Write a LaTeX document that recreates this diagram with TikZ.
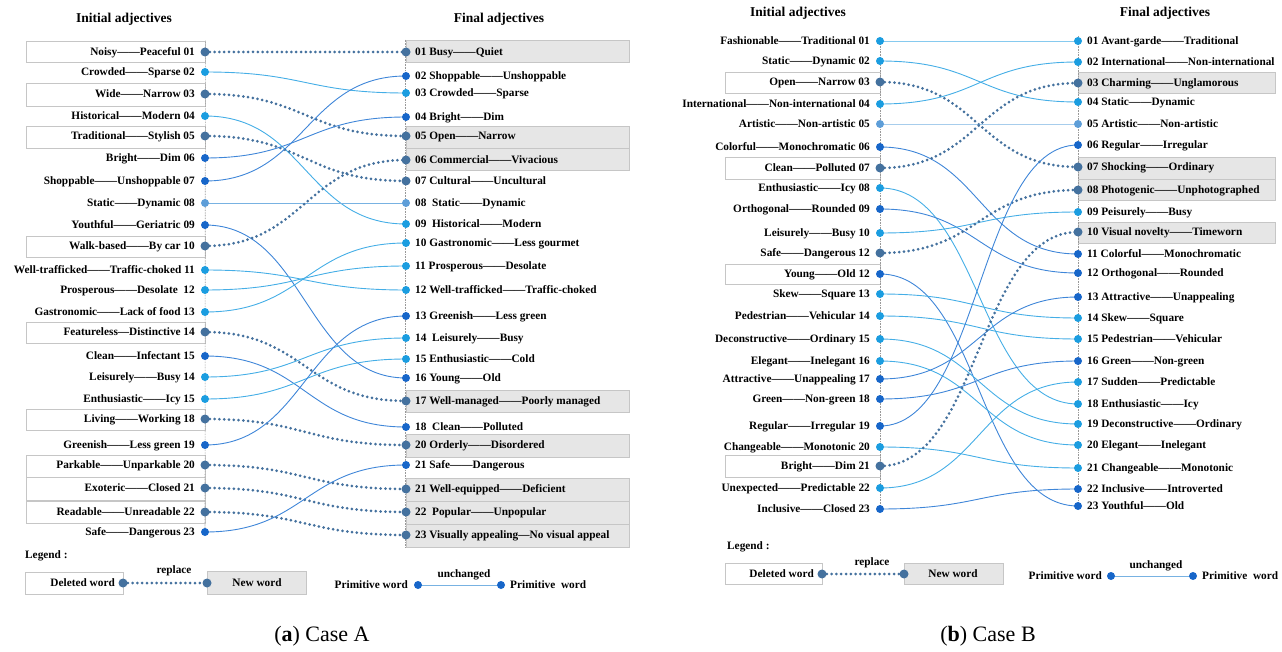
\documentclass[tikz,border=0pt]{standalone}
\usepackage{fontspec}
\setmainfont{Liberation Serif}
\usetikzlibrary{fit}
\definecolor{cyD}{HTML}{1B9DE0}
\definecolor{cyL}{HTML}{45AEE6}
\definecolor{blD}{HTML}{1766C9}
\definecolor{blL}{HTML}{3F86D8}
\definecolor{stD}{HTML}{44719E}
\definecolor{ltD}{HTML}{5E9ED8}
\definecolor{ltL}{HTML}{78B2E2}
\definecolor{boxG}{HTML}{C6C6C6}
\definecolor{fillG}{HTML}{E6E6E6}
\pgfdeclarelayer{bg}
\pgfsetlayers{bg,main}
\tikzset{
 dotn/.style={circle, inner sep=0pt, minimum size=8pt, draw=none},
 dcy/.style={fill=cyD}, dbl/.style={fill=blD}, dst/.style={fill=stD, minimum size=9pt}, dlt/.style={fill=ltD},
 lab/.style={font=\bfseries\fontsize{11.3}{13}\selectfont, inner sep=0pt, text height=8pt, text depth=1pt},
 ltxt/.style={lab, anchor=east},
 rtxt/.style={lab, anchor=west},
 delbox/.style={draw=boxG, fill=white, line width=0.8pt, inner sep=0pt},
 newbox/.style={draw=boxG, fill=fillG, line width=0.8pt, inner sep=0pt},
 colline/.style={draw=gray!80, line width=0.6pt, dash pattern=on 0.8pt off 0.8pt},
 ccy/.style={draw=cyL, line width=0.9pt},
 cbl/.style={draw=blL, line width=0.9pt},
 clt/.style={draw=ltL, line width=0.9pt},
 cst/.style={draw=stD, line width=3pt, line cap=round, dash pattern=on 0pt off 4.8pt},
 ttl/.style={font=\bfseries\fontsize{13.5}{16}\selectfont, inner sep=0pt},
 capt/.style={font=\fontsize{22}{26}\selectfont, inner sep=0pt},
}
\newcommand\LRow[5]{\node[dotn,#4] (#1) at (#2,#3) {}; \node[ltxt] (#1t) at (#2-10,#3) {#5};}
\newcommand\RRow[5]{\node[dotn,#4] (#1) at (#2,#3) {}; \node[rtxt] (#1t) at (#2+9,#3) {#5};}
\newcommand\Con[3]{\draw[#3] (#1.center) .. controls +(100,0) and +(-100,0) .. (#2.center);}
\begin{document}
\begin{tikzpicture}[x=1pt,y=-1pt]
\useasboundingbox (0,0) rectangle (1282,652);
% ---------------- titles
\node[ttl] (tA1) at (124,19) {Initial adjectives};
\node[ttl] (tA2) at (499,19) {Final adjectives};
\node[ttl] (tB1) at (798,13) {Initial adjectives};
\node[ttl] (tB2) at (1165,13) {Final adjectives};
% ---------------- Case A left
\LRow{aL01}{205}{52}{dst}{Noisy——Peaceful 01}
\LRow{aL02}{205}{72}{dcy}{Crowded——Sparse 02}
\LRow{aL03}{205}{94}{dst}{Wide——Narrow 03}
\LRow{aL04}{205}{116}{dcy}{Historical——Modern 04}
\LRow{aL05}{205}{136}{dst}{Traditional——Stylish 05}
\LRow{aL06}{205}{158}{dbl}{Bright——Dim 06}
\LRow{aL07}{205}{181}{dbl}{Shoppable——Unshoppable 07}
\LRow{aL08}{205}{203}{dlt}{Static——Dynamic 08}
\LRow{aL09}{205}{225}{dbl}{Youthful——Geriatric 09}
\LRow{aL10}{205}{246}{dst}{Walk-based——By car 10}
\LRow{aL11}{205}{270}{dcy}{Well-trafficked——Traffic-choked 11}
\LRow{aL12}{205}{290}{dcy}{Prosperous——Desolate~ 12}
\LRow{aL13}{205}{312}{dcy}{Gastronomic——Lack of food 13}
\LRow{aL14}{205}{332}{dst}{Featureless—Distinctive 14}
\LRow{aL15}{205}{356}{dbl}{Clean——Infectant 15}
\LRow{aL16}{205}{377}{dcy}{Leisurely——Busy 14}
\LRow{aL17}{205}{399}{dcy}{Enthusiastic——Icy 15}
\LRow{aL18}{205}{419}{dst}{Living——Working 18}
\LRow{aL19}{205}{445}{dbl}{Greenish——Less green 19}
\LRow{aL20}{205}{465}{dst}{Parkable——Unparkable 20}
\LRow{aL21}{205}{488}{dst}{Exoteric——Closed 21}
\LRow{aL22}{205}{512}{dst}{Readable——Unreadable 22}
\LRow{aL23}{205}{532}{dbl}{Safe——Dangerous 23}
% ---------------- Case A right
\RRow{aR01}{406}{52}{dst}{01 Busy——Quiet}
\RRow{aR02}{406}{76}{dbl}{02 Shoppable——Unshoppable}
\RRow{aR03}{406}{93}{dcy}{03 Crowded——Sparse}
\RRow{aR04}{406}{117}{dbl}{04 Bright——Dim}
\RRow{aR05}{406}{136}{dst}{05 Open——Narrow}
\RRow{aR06}{406}{160}{dst}{06 Commercial——Vivacious}
\RRow{aR07}{406}{181}{dst}{07 Cultural——Uncultural}
\RRow{aR08}{406}{203}{dlt}{08~ Static——Dynamic}
\RRow{aR09}{406}{224}{dcy}{09~ Historical——Modern}
\RRow{aR10}{406}{243}{dcy}{10 Gastronomic——Less gourmet}
\RRow{aR11}{406}{266}{dcy}{11 Prosperous——Desolate}
\RRow{aR12}{406}{290}{dcy}{12 Well-trafficked——Traffic-choked}
\RRow{aR13}{406}{316}{dbl}{13 Greenish——Less green}
\RRow{aR14}{406}{338}{dcy}{14~ Leisurely——Busy}
\RRow{aR15}{406}{359}{dcy}{15 Enthusiastic——Cold}
\RRow{aR16}{406}{378}{dbl}{16 Young——Old}
\RRow{aR17}{406}{401}{dst}{17 Well-managed——Poorly managed}
\RRow{aR18}{406}{427}{dbl}{18~ Clean——Polluted}
\RRow{aR20}{406}{445}{dst}{20 Orderly——Disordered}
\RRow{aR21}{406}{465}{dbl}{21 Safe——Dangerous}
\RRow{aR21w}{406}{489}{dst}{21 Well-equipped——Deficient}
\RRow{aR22}{406}{512}{dst}{22~ Popular——Unpopular}
\RRow{aR23}{406}{535}{dst}{23 Visually appealing—No visual appeal}
% ---------------- Case B left
\LRow{bL01}{880}{41}{dcy}{Fashionable——Traditional 01}
\LRow{bL02}{880}{61}{dcy}{Static——Dynamic 02}
\LRow{bL03}{880}{82}{dst}{Open——Narrow 03}
\LRow{bL04}{880}{104}{dcy}{International——Non-international 04}
\LRow{bL05}{880}{124}{dlt}{Artistic——Non-artistic 05}
\LRow{bL06}{880}{147}{dbl}{Colorful——Monochromatic 06}
\LRow{bL07}{880}{168}{dst}{Clean——Polluted 07}
\LRow{bL08}{880}{188}{dcy}{Enthusiastic——Icy 08}
\LRow{bL09}{880}{209}{dbl}{Orthogonal——Rounded 09}
\LRow{bL10}{880}{233}{dcy}{Leisurely——Busy 10}
\LRow{bL11}{880}{253}{dst}{Safe——Dangerous 12}
\LRow{bL12}{880}{274}{dbl}{Young——Old 12}
\LRow{bL13}{880}{294}{dcy}{Skew——Square 13}
\LRow{bL14}{880}{316}{dcy}{Pedestrian——Vehicular 14}
\LRow{bL15}{880}{339}{dcy}{Deconstructive——Ordinary 15}
\LRow{bL16}{880}{361}{dcy}{Elegant——Inelegant 16}
\LRow{bL17}{880}{379}{dbl}{Attractive——Unappealing 17}
\LRow{bL18}{880}{399}{dbl}{Green——Non-green 18}
\LRow{bL19}{880}{426}{dbl}{Regular——Irregular 19}
\LRow{bL20}{880}{447}{dcy}{Changeable——Monotonic 20}
\LRow{bL21}{880}{466}{dst}{Bright——Dim 21}
\LRow{bL22}{880}{488}{dcy}{Unexpected——Predictable 22}
\LRow{bL23}{880}{509}{dbl}{Inclusive——Closed 23}
% ---------------- Case B right
\RRow{bR01}{1078}{41}{dcy}{01 Avant-garde——Traditional}
\RRow{bR02}{1078}{62}{dcy}{02 International——Non-international}
\RRow{bR03}{1078}{83}{dst}{03 Charming——Unglamorous}
\RRow{bR04}{1078}{102}{dcy}{04 Static——Dynamic}
\RRow{bR05}{1078}{124}{dlt}{05 Artistic——Non-artistic}
\RRow{bR06}{1078}{145}{dbl}{06 Regular——Irregular}
\RRow{bR07}{1078}{167}{dst}{07 Shocking——Ordinary}
\RRow{bR08}{1078}{190}{dst}{08 Photogenic——Unphotographed}
\RRow{bR09}{1078}{212}{dcy}{09 Peisurely——Busy}
\RRow{bR10}{1078}{232}{dst}{10 Visual novelty——Timeworn}
\RRow{bR11}{1078}{254}{dbl}{11 Colorful——Monochromatic}
\RRow{bR12}{1078}{273}{dbl}{12 Orthogonal——Rounded}
\RRow{bR13}{1078}{297}{dbl}{13 Attractive——Unappealing}
\RRow{bR14}{1078}{318}{dcy}{14 Skew——Square}
\RRow{bR15}{1078}{339}{dcy}{15 Pedestrian——Vehicular}
\RRow{bR16}{1078}{361}{dbl}{16 Green——Non-green}
\RRow{bR17}{1078}{382}{dcy}{17 Sudden——Predictable}
\RRow{bR18}{1078}{404}{dcy}{18 Enthusiastic——Icy}
\RRow{bR19}{1078}{424}{dcy}{19 Deconstructive——Ordinary}
\RRow{bR20}{1078}{445}{dcy}{20 Elegant——Inelegant}
\RRow{bR21}{1078}{468}{dcy}{21 Changeable——Monotonic}
\RRow{bR22}{1078}{489}{dbl}{22 Inclusive——Introverted}
\RRow{bR23}{1078}{506}{dbl}{23 Youthful——Old}
% ---------------- Legends
\node[lab, anchor=west] (legA) at (25,555) {Legend :};
\node[ltxt] (ldAt) at (115,583) {Deleted word};
\node[dotn,dst] (ldA1) at (123,583) {};
\node[dotn,dst] (ldA2) at (207,583) {};
\node[lab] (lnAt) at (257,583) {New word};
\node[lab] (repA) at (174,570) {replace};
\node[ltxt] (pA1t) at (408,585) {Primitive word};
\node[dotn,dbl] (pA1) at (418,585) {};
\node[dotn,dbl] (pA2) at (501,585) {};
\node[rtxt] (pA2t) at (510,585) {Primitive~ word};
\node[lab] (unA) at (464,574) {unchanged};
\node[lab, anchor=west] (legB) at (727,546) {Legend :};
\node[ltxt] (ldBt) at (814,574) {Deleted word};
\node[dotn,dst] (ldB1) at (822,574) {};
\node[dotn,dst] (ldB2) at (904,574) {};
\node[lab] (lnBt) at (953,574) {New word};
\node[lab] (repB) at (872,562) {replace};
\node[ltxt] (pB1t) at (1102,576) {Primitive word};
\node[dotn,dbl] (pB1) at (1111,576) {};
\node[dotn,dbl] (pB2) at (1193,576) {};
\node[rtxt] (pB2t) at (1202,576) {Primitive~ word};
\node[lab] (unB) at (1156,565) {unchanged};
% ---------------- captions
\node[capt] (cA) at (322,636) {(\textbf{a}) Case A};
\node[capt] (cB) at (988,636) {(\textbf{b}) Case B};
% ---------------- background: boxes, column lines, connectors
\begin{pgfonlayer}{bg}
 % deleted-word boxes A
 \node[delbox, fit={(26,41) (205,62)}] (xA01) {};
 \node[delbox, fit={(26,83) (205,106)}] (xA03) {};
 \node[delbox, fit={(26,126) (205,148)}] (xA05) {};
 \node[delbox, fit={(26,236) (205,257)}] (xA10) {};
 \node[delbox, fit={(26,322) (205,343)}] (xA14) {};
 \node[delbox, fit={(26,409) (205,430)}] (xA18) {};
 \node[delbox, fit={(26,455) (205,477)}] (xA20) {};
 \node[delbox, fit={(26,477) (205,500)}] (xA21) {};
 \node[delbox, fit={(26,501) (205,523)}] (xA22) {};
 % new-word boxes A
 \node[newbox, fit={(406,40) (629,62)}] (yA01) {};
 \node[newbox, fit={(406,126) (629,148)}] (yA05) {};
 \node[newbox, fit={(406,148) (629,170)}] (yA06) {};
 \node[newbox, fit={(406,390) (629,412)}] (yA17) {};
 \node[newbox, fit={(406,434) (629,457)}] (yA20) {};
 \node[newbox, fit={(406,478) (629,501)}] (yA21) {};
 \node[newbox, fit={(406,501) (629,524)}] (yA22) {};
 \node[newbox, fit={(406,524) (629,547)}] (yA23) {};
 % boxes B
 \node[delbox, fit={(725,72) (880,93)}] (xB03) {};
 \node[delbox, fit={(725,157) (880,179)}] (xB07) {};
 \node[delbox, fit={(725,264) (880,284)}] (xB12) {};
 \node[delbox, fit={(725,455) (880,477)}] (xB21) {};
 \node[newbox, fit={(1078,72) (1275,93)}] (yB03) {};
 \node[newbox, fit={(1078,157) (1275,179)}] (yB07) {};
 \node[newbox, fit={(1078,179) (1275,200)}] (yB08) {};
 \node[newbox, fit={(1078,222) (1275,243)}] (yB10) {};
 % legend boxes
 \node[delbox, fit={(25,572) (123,594)}] (ldAb) {};
 \node[newbox, fit={(207,571) (306,594)}] (lnAb) {};
 \node[delbox, fit={(725,563) (822,584)}] (ldBb) {};
 \node[newbox, fit={(904,563) (1003,584)}] (lnBb) {};
 % column lines
 \draw[colline] (xA01.north east) -- (aL23.center);
 \draw[colline] (yA01.north west) -- (yA23.south west);
 \draw[colline] (bL01.center) -- (bL23.center);
 \draw[colline] ([yshift=5pt]bR01.center) -- (bR23.center);
 % connectors A
 \Con{aL01}{aR01}{cst}
 \Con{aL02}{aR03}{ccy}
 \Con{aL03}{aR05}{cst}
 \Con{aL04}{aR09}{ccy}
 \Con{aL05}{aR07}{cst}
 \Con{aL06}{aR04}{cbl}
 \Con{aL07}{aR02}{cbl}
 \Con{aL08}{aR08}{clt}
 \Con{aL09}{aR16}{cbl}
 \Con{aL10}{aR06}{cst}
 \Con{aL11}{aR12}{ccy}
 \Con{aL12}{aR11}{ccy}
 \Con{aL13}{aR10}{ccy}
 \Con{aL14}{aR17}{cst}
 \Con{aL15}{aR18}{cbl}
 \Con{aL16}{aR14}{ccy}
 \Con{aL17}{aR15}{ccy}
 \Con{aL18}{aR20}{cst}
 \Con{aL19}{aR13}{cbl}
 \Con{aL20}{aR21w}{cst}
 \Con{aL21}{aR22}{cst}
 \Con{aL22}{aR23}{cst}
 \Con{aL23}{aR21}{cbl}
 % connectors B
 \Con{bL01}{bR01}{ccy}
 \Con{bL02}{bR04}{ccy}
 \Con{bL03}{bR07}{cst}
 \Con{bL04}{bR02}{ccy}
 \Con{bL05}{bR05}{clt}
 \Con{bL06}{bR11}{cbl}
 \Con{bL07}{bR03}{cst}
 \Con{bL08}{bR18}{ccy}
 \Con{bL09}{bR12}{cbl}
 \Con{bL10}{bR09}{ccy}
 \Con{bL11}{bR08}{cst}
 \Con{bL12}{bR23}{cbl}
 \Con{bL13}{bR14}{ccy}
 \Con{bL14}{bR15}{ccy}
 \Con{bL15}{bR19}{ccy}
 \Con{bL16}{bR20}{ccy}
 \Con{bL17}{bR13}{cbl}
 \Con{bL18}{bR16}{cbl}
 \Con{bL19}{bR06}{cbl}
 \Con{bL20}{bR21}{ccy}
 \Con{bL21}{bR10}{cst}
 \Con{bL22}{bR17}{ccy}
 \Con{bL23}{bR22}{cbl}
 % legend connectors
 \draw[cst] (ldA1.center) -- (ldA2.center);
 \draw[clt, line width=1pt] (pA1.center) -- (pA2.center);
 \draw[cst] (ldB1.center) -- (ldB2.center);
 \draw[clt, line width=1pt] (pB1.center) -- (pB2.center);
\end{pgfonlayer}
\end{tikzpicture}
\end{document}
